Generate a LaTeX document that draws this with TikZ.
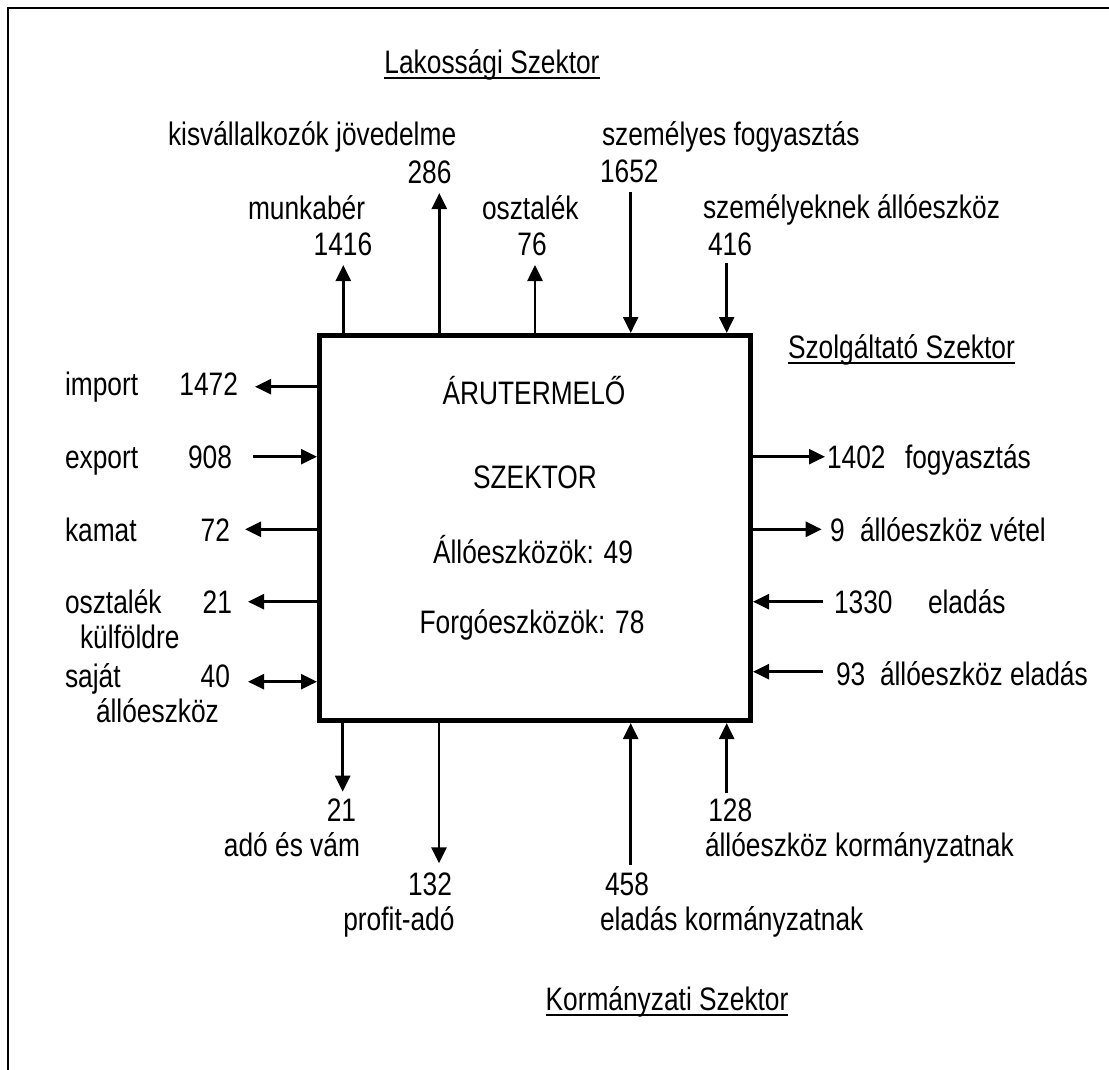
\documentclass[tikz,border=0pt]{standalone}
\usepackage{fontspec}
\setmainfont{Liberation Sans}[FakeStretch=0.81]
\usetikzlibrary{arrows.meta}
\begin{document}
\begin{tikzpicture}[x=1pt,y=-1pt,
  lbl/.style={inner sep=0pt, outer sep=0pt, font=\fontsize{32.5pt}{39pt}\selectfont},
  flow/.style={line width=2.6pt, -{Triangle[length=16pt,width=15pt]}},
  both/.style={line width=2.6pt, {Triangle[length=16pt,width=15pt]}-{Triangle[length=16pt,width=15pt]}},
  uline/.style={line width=1.7pt},
  sector/.style={draw, line width=5pt, inner sep=0pt, outer sep=2.5pt,
    minimum width=431pt, minimum height=385pt}]
\useasboundingbox (0,0) rectangle (1109,1069);
\clip (0,0) rectangle (1109,1069);

% page frame (only its left and top sides fall inside the page)
\draw[line width=1.9pt] (8.3,1090) -- (8.3,7.8) -- (1130,7.8);

% the producing sector
\node[sector] (box) at (535,528) {};
\node[lbl, anchor=base] (t1) at (534,404) {ÁRUTERMELŐ};
\node[lbl, anchor=base] (t2) at (535,488) {SZEKTOR};
\node[lbl, anchor=base] (t3) at (533,563) {Állóeszközök: 49};
\node[lbl, anchor=base] (t4) at (532,633) {Forgóeszközök: 78};

% sector titles
\node[lbl, anchor=base] (lak) at (492,73) {Lakossági Szektor};
\draw[uline] ([yshift=-5pt]lak.base west) -- ([yshift=-5pt]lak.base east);
\node[lbl, anchor=base west] (szolg) at (788,358) {Szolgáltató Szektor};
\draw[uline] ([yshift=-5pt]szolg.base west) -- ([yshift=-5pt]szolg.base east);
\node[lbl, anchor=base] (korm) at (667,1010) {Kormányzati Szektor};
\draw[uline] ([yshift=-5pt]korm.base west) -- ([yshift=-5pt]korm.base east);

% households (top)
\node[lbl, anchor=base west] (kis) at (168,145) {kisvállalkozók jövedelme};
\node[lbl, anchor=base] (n286) at (429.5,183) {286};
\node[lbl, anchor=base west] (munka) at (248,219) {munkabér};
\node[lbl, anchor=base] (n1416) at (343,255) {1416};
\node[lbl, anchor=base west] (oszt) at (482,219) {osztalék};
\node[lbl, anchor=base] (n76) at (532,255) {76};
\node[lbl, anchor=base west] (szfogy) at (602,145) {személyes fogyasztás};
\node[lbl, anchor=base west] (n1652) at (600,182) {1652};
\node[lbl, anchor=base west] (szall) at (703,218) {személyeknek állóeszköz};
\node[lbl, anchor=base west] (n416) at (708,255) {416};

\coordinate (a1416) at (343.3,265);
\coordinate (a286) at (439.3,193);
\coordinate (a76) at (535,265);
\coordinate (a1652) at (630.7,192);
\coordinate (a416) at (726.7,263);
\draw[flow] (box.north -| a1416) -- (a1416);
\draw[flow] (box.north -| a286) -- (a286);
\draw[flow] (box.north -| a76) -- (a76);
\draw[flow] (a1652) -- (box.north -| a1652);
\draw[flow] (a416) -- (box.north -| a416);

% foreign trade (left)
\node[lbl, anchor=base west] (imp) at (65,395) {import};
\node[lbl, anchor=base east] (n1472) at (238,395) {1472};
\node[lbl, anchor=base west] (exp) at (65,468) {export};
\node[lbl, anchor=base east] (n908) at (232,468) {908};
\node[lbl, anchor=base west] (kam) at (65,541.5) {kamat};
\node[lbl, anchor=base east] (n72) at (230,541.5) {72};
\node[lbl, anchor=base west] (osztk) at (65,613) {osztalék};
\node[lbl, anchor=base east] (n21l) at (232,613) {21};
\node[lbl, anchor=base west] (kulf) at (80,648) {külföldre};
\node[lbl, anchor=base west] (saj) at (65,687) {saját};
\node[lbl, anchor=base east] (n40) at (230,687) {40};
\node[lbl, anchor=base west] (sajall) at (96,722) {állóeszköz};

\coordinate (a1472) at (255,386.7);
\coordinate (a908) at (253,456.7);
\coordinate (a72) at (245,529.3);
\coordinate (a21l) at (248,601.7);
\coordinate (a40) at (248,681.7);
\draw[flow] (box.west |- a1472) -- (a1472);
\draw[flow] (a908) -- (box.west |- a908);
\draw[flow] (box.west |- a72) -- (a72);
\draw[flow] (box.west |- a21l) -- (a21l);
\draw[both] (a40) -- (box.west |- a40);

% services (right)
\node[lbl, anchor=base west] (n1402) at (827,468) {1402};
\node[lbl, anchor=base west] (fogy) at (905,468) {fogyasztás};
\node[lbl, anchor=base west] (n9) at (830,541.5) {9};
\node[lbl, anchor=base west] (vetel) at (860,541.5) {állóeszköz vétel};
\node[lbl, anchor=base west] (n1330) at (834,613) {1330};
\node[lbl, anchor=base west] (elad) at (928,613) {eladás};
\node[lbl, anchor=base west] (n93) at (836,685) {93};
\node[lbl, anchor=base west] (alloelad) at (880,685) {állóeszköz eladás};

\coordinate (a1402) at (825,456.7);
\coordinate (a9) at (821.7,529.3);
\coordinate (a1330) at (822.7,601.7);
\coordinate (a93) at (822.7,671.7);
\draw[flow] (box.east |- a1402) -- (a1402);
\draw[flow] (box.east |- a9) -- (a9);
\draw[flow] (a1330) -- (box.east |- a1330);
\draw[flow] (a93) -- (box.east |- a93);

% government (bottom)
\node[lbl, anchor=base] (n21b) at (341.5,821.7) {21};
\node[lbl, anchor=base east] (adovam) at (360,856.7) {adó és vám};
\node[lbl, anchor=base] (n132) at (430,895) {132};
\node[lbl, anchor=base west] (profit) at (343.3,930) {profit-adó};
\node[lbl, anchor=base west] (n458) at (605,895) {458};
\node[lbl, anchor=base west] (eladk) at (600,930) {eladás kormányzatnak};
\node[lbl, anchor=base west] (n128) at (708.3,821.7) {128};
\node[lbl, anchor=base west] (allok) at (705,856.7) {állóeszköz kormányzatnak};

\coordinate (a21b) at (342.7,791.7);
\coordinate (a132) at (439,863.3);
\coordinate (a458) at (630.7,865);
\coordinate (a128) at (726.7,793.3);
\draw[flow] (box.south -| a21b) -- (a21b);
\draw[flow] (box.south -| a132) -- (a132);
\draw[flow] (a458) -- (box.south -| a458);
\draw[flow] (a128) -- (box.south -| a128);
\end{tikzpicture}
\end{document}
